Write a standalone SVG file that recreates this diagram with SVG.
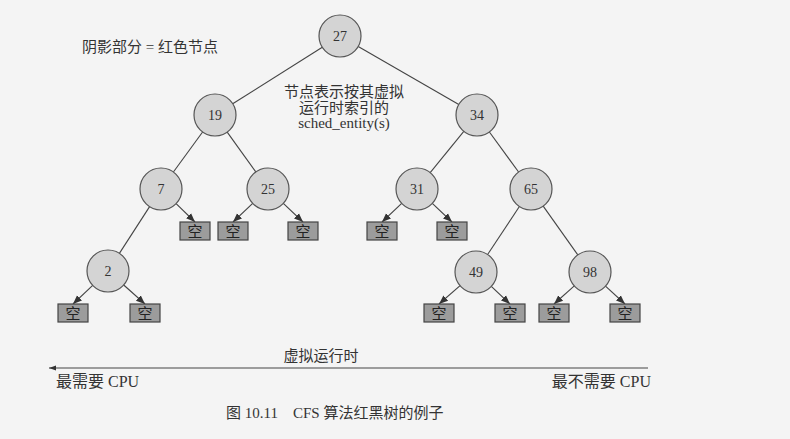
<svg xmlns="http://www.w3.org/2000/svg" width="790" height="439" viewBox="0 0 790 439">
<defs>
<marker id="ah" viewBox="0 0 10 10" refX="10" refY="5" markerWidth="9" markerHeight="9" markerUnits="userSpaceOnUse" orient="auto">
<path d="M0,1 L10,5 L0,9 z" fill="#333"/>
</marker>
<marker id="ahb" viewBox="0 0 10 10" refX="10" refY="5" markerWidth="9" markerHeight="7" markerUnits="userSpaceOnUse" orient="auto">
<path d="M0,1.5 L10,5 L0,8.5 z" fill="#333"/>
</marker>
</defs>
<style>
.n circle{fill:#d4d4d4;stroke:#555;stroke-width:1.2}
.n text{font-family:"Liberation Serif","Noto Sans CJK SC",serif;font-size:14px;fill:#333;text-anchor:middle}
.e rect{fill:#9c9c9c;stroke:#444;stroke-width:1.2}
.e text{font-family:"Liberation Serif","Noto Sans CJK SC",serif;font-size:15px;fill:#222;text-anchor:middle}
.c line{stroke:#444;stroke-width:1.1}
.a{marker-end:url(#ah)}
.t{font-family:"Liberation Serif","Noto Sans CJK SC",serif;fill:#333;font-size:15px}
</style>
<rect width="790" height="439" fill="#f4f4f4"/>
<g id="connectors" class="c">
<line x1="322.3" y1="47.2" x2="232.7" y2="103.8"/>
<line x1="358.2" y1="46.5" x2="458.8" y2="104.5"/>
<line x1="202.6" y1="132" x2="173.4" y2="172"/>
<line x1="227.2" y1="132.1" x2="255.8" y2="171.9"/>
<line x1="463.8" y1="131.3" x2="430.2" y2="172.7"/>
<line x1="489.4" y1="132" x2="518.6" y2="172"/>
<line x1="149.6" y1="206.6" x2="119.4" y2="253.4"/>
<line x1="519.4" y1="206.5" x2="487.6" y2="254.5"/>
<line x1="543.2" y1="206.1" x2="577.8" y2="254.9"/>
<line class="a" x1="176.1" y1="203.6" x2="195" y2="222"/>
<line class="a" x1="252.7" y1="203.4" x2="233" y2="222"/>
<line class="a" x1="283.3" y1="203.4" x2="303" y2="222"/>
<line class="a" x1="401.7" y1="203.4" x2="382" y2="222"/>
<line class="a" x1="432.3" y1="203.4" x2="452" y2="222"/>
<line class="a" x1="92.7" y1="285.4" x2="73" y2="304"/>
<line class="a" x1="123.7" y1="285" x2="145" y2="304"/>
<line class="a" x1="460.1" y1="285.7" x2="439" y2="304"/>
<line class="a" x1="491.3" y1="286.4" x2="510" y2="304"/>
<line class="a" x1="574.3" y1="285.9" x2="554" y2="304"/>
<line class="a" x1="605.5" y1="286.2" x2="625" y2="304"/>
<line x1="648" y1="368" x2="49" y2="368" style="marker-end:url(#ahb)"/>
</g>
<g id="n27" class="n"><circle cx="340" cy="36" r="21"/><text x="340" y="41">27</text></g>
<g id="n19" class="n"><circle cx="215" cy="115" r="21"/><text x="215" y="120">19</text></g>
<g id="n34" class="n"><circle cx="477" cy="115" r="21"/><text x="477" y="120">34</text></g>
<g id="n7" class="n"><circle cx="161" cy="189" r="21"/><text x="161" y="194">7</text></g>
<g id="n25" class="n"><circle cx="268" cy="189" r="21"/><text x="268" y="194">25</text></g>
<g id="n31" class="n"><circle cx="417" cy="189" r="21"/><text x="417" y="194">31</text></g>
<g id="n65" class="n"><circle cx="531" cy="189" r="21"/><text x="531" y="194">65</text></g>
<g id="n2" class="n"><circle cx="108" cy="271" r="21"/><text x="108" y="276">2</text></g>
<g id="n49" class="n"><circle cx="476" cy="272" r="21"/><text x="476" y="277">49</text></g>
<g id="n98" class="n"><circle cx="590" cy="272" r="21"/><text x="590" y="277">98</text></g>
<g id="nil1" class="e"><rect x="180" y="222" width="30" height="18"/><text x="195" y="236.5">空</text></g>
<g id="nil2" class="e"><rect x="218" y="222" width="30" height="18"/><text x="233" y="236.5">空</text></g>
<g id="nil3" class="e"><rect x="288" y="222" width="30" height="18"/><text x="303" y="236.5">空</text></g>
<g id="nil4" class="e"><rect x="367" y="222" width="30" height="18"/><text x="382" y="236.5">空</text></g>
<g id="nil5" class="e"><rect x="437" y="222" width="30" height="18"/><text x="452" y="236.5">空</text></g>
<g id="nil6" class="e"><rect x="58" y="304" width="30" height="18"/><text x="73" y="318.5">空</text></g>
<g id="nil7" class="e"><rect x="130" y="304" width="30" height="18"/><text x="145" y="318.5">空</text></g>
<g id="nil8" class="e"><rect x="424" y="304" width="30" height="18"/><text x="439" y="318.5">空</text></g>
<g id="nil9" class="e"><rect x="495" y="304" width="30" height="18"/><text x="510" y="318.5">空</text></g>
<g id="nil10" class="e"><rect x="539" y="304" width="30" height="18"/><text x="554" y="318.5">空</text></g>
<g id="nil11" class="e"><rect x="610" y="304" width="30" height="18"/><text x="625" y="318.5">空</text></g>
<g id="legend"><text class="t" x="82" y="52" font-size="16.5">阴影部分 = 红色节点</text></g>
<g id="note" class="t" text-anchor="middle" font-size="15.5">
<text x="344" y="97">节点表示按其虚拟</text>
<text x="344" y="113">运行时索引的</text>
<text x="344" y="128">sched_entity(s)</text>
</g>
<g id="axis" class="t">
<text x="321" y="361" text-anchor="middle">虚拟运行时</text>
<text x="56" y="387" font-size="16">最需要 CPU</text>
<text x="651" y="387" text-anchor="end" font-size="16">最不需要 CPU</text>
</g>
<text class="t" x="226" y="418" font-size="16" xml:space="preserve">图 10.11    CFS 算法红黑树的例子</text>
</svg>
